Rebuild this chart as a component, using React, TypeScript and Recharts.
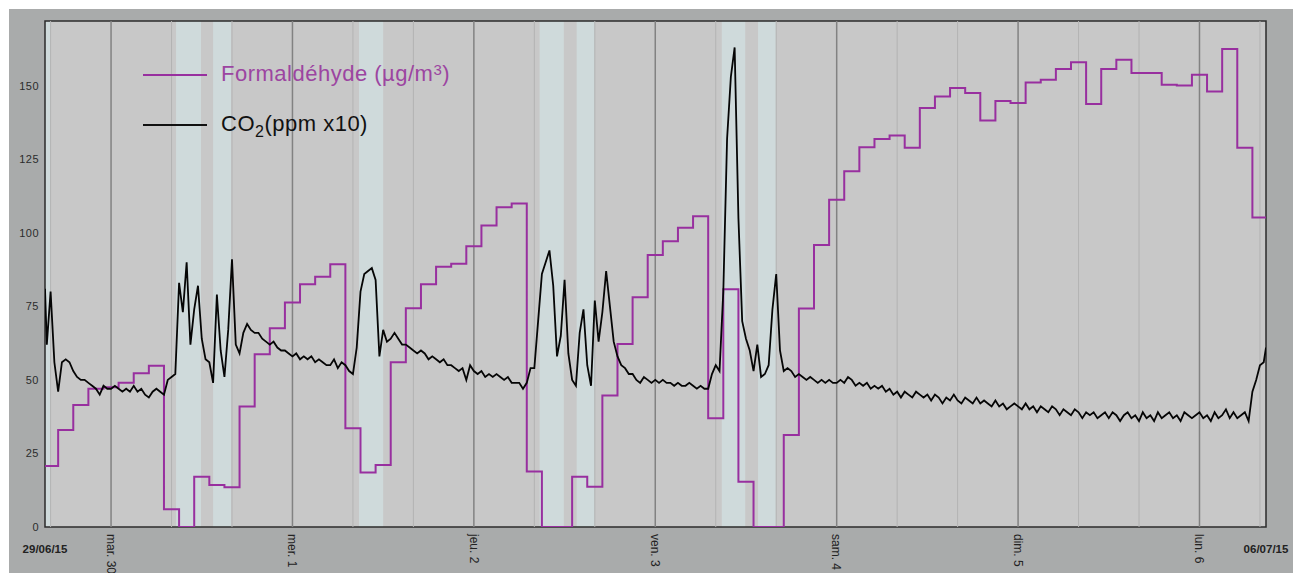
import React from 'react';
import {
  LineChart,
  Line,
  XAxis,
  YAxis,
  CartesianGrid,
  ReferenceArea,
  ReferenceLine,
} from 'recharts';

// x axis is in hours counted from 29/06/15 00:00
const START = 15.26;
const END = 176.8;

const dayTicks = [24, 48, 72, 96, 120, 144, 168];
const dayLabels = ['mar. 30', 'mer. 1', 'jeu. 2', 'ven. 3', 'sam. 4', 'dim. 5', 'lun. 6'];
const edgeLabels = ['29/06/15', '06/07/15'];
const minorGrid = [16, 32, 40, 56, 64, 80, 88, 104, 112, 128, 136, 152, 160, 176];
const yTicks = [0, 25, 50, 75, 100, 125, 150];

// light blue periods
const bandFrom = [START, 32.6, 37.5, 56.8, 80.7, 85.6, 104.8, 109.6];
const bandTo = [16.0, 35.9, 39.9, 60.0, 83.9, 88.0, 107.9, 111.95];

// formaldehyde, 2h means (first from start to 17h, then 17-19h, 19-21h ...)
const formaldehyde = [
  20.7, 33, 41.5, 47, 47.5, 49, 52.3, 54.8, 6, 0,
  17.1, 14.3, 13.5, 41, 58.7, 67.6, 76.3, 82.5, 85.1, 89.3,
  33.6, 18.5, 21.1, 56, 74.4, 82.5, 88.5, 89.5, 95.4, 102.5,
  108.7, 110, 18.9, 0, 0, 17.1, 13.7, 44.7, 62.2, 78.1,
  92.5, 97.1, 101.7, 105.6, 37, 80.8, 15.4, 0, 0, 31.3,
  74.3, 95.9, 111.2, 120.9, 129.1, 131.9, 133.1, 128.9, 142.4, 146.3,
  149.2, 147.5, 138.2, 144.8, 144.1, 151.1, 152, 155.7, 158, 143.8,
  155.7, 158.8, 154.3, 154.3, 150.3, 150.1, 153.7, 148, 162.5, 128.9,
  105.2,
];

// CO2 (ppm x10), every 30 min
const co2Start = 81;
const co2Mon29 = [62, 80, 56, 46, 56, 57, 56, 53, 51, 50, 50, 49, 48, 47, 45, 48, 47];
const co2Tue30 = [
  47, 48, 47, 46, 47, 46, 48, 46, 47, 45, 44, 46, 47, 46, 45, 50,
  51, 52, 83, 73, 90, 62, 74, 82, 64, 57, 56, 49, 79, 60, 51, 67,
  91, 62, 59, 66, 69, 67, 66, 66, 64, 63, 62, 63, 61, 60, 60, 59,
];
const co2Wed1 = [
  58, 59, 57, 58, 57, 58, 56, 57, 56, 55, 55, 57, 54, 56, 55, 53,
  52, 61, 80, 86, 87, 88, 84, 58, 67, 63, 64, 66, 64, 62, 62, 61,
  60, 59, 60, 59, 57, 58, 57, 56, 57, 55, 55, 54, 53, 54, 50, 55,
];
const co2Thu2 = [
  53, 52, 53, 51, 52, 51, 52, 51, 50, 51, 49, 49, 49, 47, 49, 54,
  54, 70, 86, 90, 94, 82, 58, 65, 84, 59, 50, 48, 66, 74, 55, 48,
  77, 63, 73, 87, 75, 63, 58, 55, 54, 52, 52, 50, 49, 51, 50, 49,
];
const co2Fri3 = [
  50, 49, 50, 49, 49, 48, 49, 48, 48, 49, 48, 47, 48, 47, 47, 52,
  55, 53, 80, 132, 153, 163, 105, 70, 64, 60, 53, 62, 51, 52, 55, 74,
  86, 60, 53, 54, 53, 51, 52, 51, 50, 51, 50, 49, 50, 49, 50, 49,
];
const co2Sat4 = [
  49, 50, 49, 51, 50, 48, 49, 48, 49, 47, 48, 47, 48, 46, 47, 45,
  46, 44, 46, 45, 44, 46, 45, 44, 45, 43, 45, 44, 42, 44, 43, 45,
  43, 42, 44, 43, 42, 44, 42, 43, 42, 41, 43, 41, 42, 40, 41, 42,
];
const co2Sun5 = [
  41, 40, 42, 40, 41, 39, 41, 40, 39, 41, 40, 38, 40, 39, 38, 40,
  39, 37, 39, 38, 39, 37, 38, 39, 37, 39, 38, 36, 38, 39, 37, 38,
  36, 39, 37, 38, 36, 39, 37, 38, 39, 37, 38, 36, 39, 38, 37, 38,
];
const co2Mon6 = [39, 37, 38, 36, 39, 37, 38, 40, 37, 39, 37, 38, 39, 36, 46, 50, 55, 56];
const co2End = 61;

const formData = formaldehyde.map((v, i) => ({ h: i === 0 ? START : 15 + 2 * i, v }));
formData.push({ h: END, v: formaldehyde[formaldehyde.length - 1] });

const co2Days = [
  { from: 15.5, values: co2Mon29 },
  { from: 24, values: co2Tue30 },
  { from: 48, values: co2Wed1 },
  { from: 72, values: co2Thu2 },
  { from: 96, values: co2Fri3 },
  { from: 120, values: co2Sat4 },
  { from: 144, values: co2Sun5 },
  { from: 168, values: co2Mon6 },
];
const co2Data = [{ h: START, v: co2Start }];
co2Days.forEach((d) => d.values.forEach((v, i) => co2Data.push({ h: d.from + i * 0.5, v })));
co2Data.push({ h: END, v: co2End });

const FONT = '"Liberation Sans", Arial, sans-serif';
const PURPLE = '#982f9f';

function DayTick(props: any) {
  const { x, y, payload } = props;
  const value = payload.value;
  if (value === START || value === END) {
    return (
      <text x={x} y={y + 26} textAnchor="middle" fontSize={11.5} fontWeight="bold" fill="#222" fontFamily={FONT}>
        {value === START ? edgeLabels[0] : edgeLabels[1]}
      </text>
    );
  }
  const label = dayLabels[dayTicks.indexOf(value)];
  return (
    <text transform={`translate(${x},${y + 7}) rotate(90)`} dy="0.35em" fontSize={12} fill="#222" fontFamily={FONT}>
      {label}
    </text>
  );
}

export default function App() {
  return (
    <div style={{ position: 'absolute', left: 0, top: 0, width: 1300, height: 573, background: '#fff', overflow: 'hidden' }}>
      <div style={{ position: 'absolute', left: 9, top: 9, width: 1284, height: 564, background: '#a9abab' }} />
      <div style={{ position: 'absolute', left: 0, top: 0 }}>
        <LineChart width={1300} height={573} margin={{ top: 21, right: 34, bottom: 0, left: 9 }}>
          <XAxis
            type="number"
            dataKey="h"
            domain={[START, END]}
            ticks={[START, ...dayTicks, END]}
            interval={0}
            tick={(p: any) => <DayTick {...p} />}
            tickLine={false}
            tickSize={0}
            tickMargin={0}
            axisLine={false}
            height={46}
            allowDataOverflow
          />
          <YAxis
            type="number"
            domain={[0, 172]}
            ticks={yTicks}
            width={36}
            tickLine={false}
            tickSize={0}
            tickMargin={6}
            axisLine={false}
            tick={{ fill: '#2b2b2b', fontSize: 11, fontFamily: FONT, letterSpacing: 0.5 }}
            allowDataOverflow
          />
          <ReferenceArea x1={START} x2={END} y1={0} y2={172} fill="#c8c8c8" fillOpacity={1} stroke="none" />
          {bandFrom.map((b, i) => (
            <ReferenceArea key={'b' + i} x1={b} x2={bandTo[i]} y1={0} y2={172} fill="#cfdadb" fillOpacity={1} stroke="none" />
          ))}
          <CartesianGrid vertical={false} stroke="#b7b7b7" />
          {minorGrid.map((h) => (
            <ReferenceLine key={'m' + h} x={h} stroke="#b3b3b3" strokeWidth={1} />
          ))}
          {dayTicks.map((h) => (
            <ReferenceLine key={'d' + h} x={h} stroke="#828282" strokeWidth={1.5} />
          ))}
          <Line data={formData} dataKey="v" type="stepAfter" stroke={PURPLE} strokeWidth={2} dot={false} activeDot={false} isAnimationActive={false} />
          <Line data={co2Data} dataKey="v" type="linear" stroke="#050505" strokeWidth={1.8} dot={false} activeDot={false} isAnimationActive={false} />
          <ReferenceArea x1={START} x2={END} y1={0} y2={172} fill="none" stroke="#2b2b2b" strokeWidth={1.5} />
        </LineChart>
      </div>
      <div style={{ position: 'absolute', left: 143, top: 50, fontFamily: FONT, fontSize: 22, letterSpacing: 0.5 }}>
        <div style={{ display: 'flex', alignItems: 'center', height: 50, lineHeight: '24px' }}>
          <span style={{ display: 'inline-block', width: 64, height: 2, background: PURPLE, marginRight: 14 }} />
          <span style={{ color: '#9c45a1' }}>
            Formaldéhyde (µg/m<span style={{ fontSize: 15, position: 'relative', top: -6 }}>3</span>)
          </span>
        </div>
        <div style={{ display: 'flex', alignItems: 'center', height: 50, lineHeight: '24px' }}>
          <span style={{ display: 'inline-block', width: 64, height: 2, background: '#111', marginRight: 14 }} />
          <span style={{ color: '#111' }}>
            CO<span style={{ fontSize: 16, position: 'relative', top: 6 }}>2</span>(ppm x10)
          </span>
        </div>
      </div>
    </div>
  );
}
